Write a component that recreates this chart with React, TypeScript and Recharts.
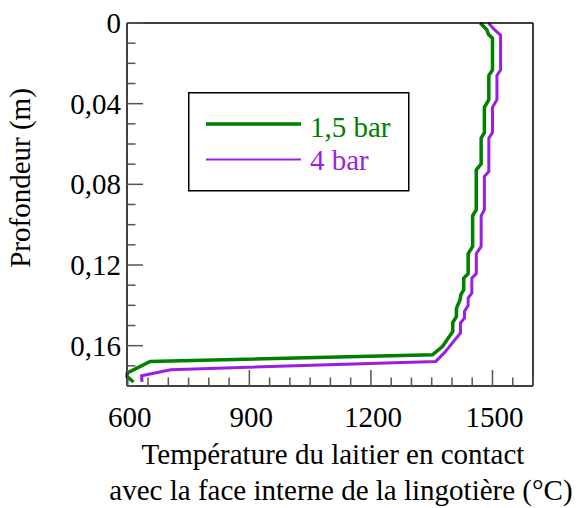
import { LineChart, Line, XAxis, YAxis, Legend } from 'recharts'

const FONT = '"Liberation Serif", "Times New Roman", serif'

// 1,5 bar
const temp15 = [1470, 1486, 1490, 1500, 1500, 1491, 1491, 1480, 1480, 1472, 1472, 1460, 1460, 1451, 1451, 1440, 1440, 1429, 1429, 1422, 1420, 1411, 1411, 1402, 1402, 1377, 1352, 655, 599, 598, 614]
const depth15 = [0, 0.0033, 0.0056, 0.0076, 0.0233, 0.026, 0.038, 0.0418, 0.0543, 0.0571, 0.0698, 0.0728, 0.0926, 0.0956, 0.1108, 0.1144, 0.1243, 0.1265, 0.1323, 0.1347, 0.1372, 0.1415, 0.1455, 0.1485, 0.153, 0.1603, 0.1645, 0.1678, 0.1735, 0.1752, 0.178]

// 4 bar
const temp4 = [1490, 1505, 1520, 1520, 1511, 1511, 1500, 1500, 1491, 1491, 1480, 1480, 1472, 1472, 1460, 1460, 1449, 1449, 1440, 1440, 1431, 1431, 1421, 1421, 1381, 1360, 706, 634, 635]
const depth4 = [0, 0.0033, 0.006, 0.0233, 0.026, 0.038, 0.0418, 0.0543, 0.0571, 0.0736, 0.0761, 0.0926, 0.0956, 0.1108, 0.1144, 0.1243, 0.1265, 0.1339, 0.1364, 0.14, 0.143, 0.1463, 0.1488, 0.1537, 0.1636, 0.1678, 0.1719, 0.1749, 0.178]

const xTicks = [600, 650, 700, 750, 800, 850, 900, 950, 1000, 1050, 1100, 1150, 1200, 1250, 1300, 1350, 1400, 1450, 1500, 1550, 1600]
const xLabels = [600, 900, 1200, 1500]
const yTicks = [0, 0.01, 0.02, 0.03, 0.04, 0.05, 0.06, 0.07, 0.08, 0.09, 0.1, 0.11, 0.12, 0.13, 0.14, 0.15, 0.16, 0.17, 0.18]
const yLabels = [0, 0.04, 0.08, 0.12, 0.16]

const series = [
  { name: '1,5 bar', color: '#008000', width: 3.5, legendWidth: 3.5, data: temp15.map((t, i) => ({ t, d: depth15[i] })) },
  { name: '4 bar', color: '#9b1fe3', width: 3, legendWidth: 2, data: temp4.map((t, i) => ({ t, d: depth4[i] })) },
]

const MAJOR = 16
const MINOR = 8.5
const TICK = '#555'

const isMajorX = (v: number) => v % 300 === 0
const isMajorY = (v: number) => Math.round(v * 100) % 4 === 0
const fmtY = (v: number) => (v === 0 ? '0' : v.toFixed(2).replace('.', ','))

function BottomTick(p: any) {
  const v = p.payload.value
  const len = isMajorX(v) ? MAJOR : MINOR
  return (
    <g>
      <line x1={p.x} x2={p.x} y1={p.y} y2={p.y - len} stroke={TICK} strokeWidth={1.5} />
      {xLabels.includes(v) && (
        <text x={p.x + 2} y={p.y + 41} textAnchor="middle" fontFamily={FONT} fontSize={29} fill="#000">
          {v}
        </text>
      )}
    </g>
  )
}

function TopTick(p: any) {
  const len = isMajorX(p.payload.value) ? MAJOR : MINOR
  return <line x1={p.x} x2={p.x} y1={p.y} y2={p.y + len} stroke={TICK} strokeWidth={1.5} />
}

function LeftTick(p: any) {
  const v = p.payload.value
  const len = isMajorY(v) ? MAJOR : MINOR
  return (
    <g>
      <line x1={p.x} x2={p.x + len} y1={p.y} y2={p.y} stroke={TICK} strokeWidth={1.5} />
      {yLabels.includes(v) && (
        <text x={p.x - 6} y={p.y + 10} textAnchor="end" fontFamily={FONT} fontSize={29} fill="#000">
          {fmtY(v)}
        </text>
      )}
    </g>
  )
}

function RightTick(p: any) {
  const len = isMajorY(p.payload.value) ? MAJOR : MINOR
  return <line x1={p.x} x2={p.x - len} y1={p.y} y2={p.y} stroke={TICK} strokeWidth={1.5} />
}

function LegendBox() {
  return (
    <svg width={222} height={100}>
      <rect x={0.75} y={0.75} width={220} height={98} fill="#fff" stroke="#000" strokeWidth={1.5} />
      {series.map((s, i) => (
        <g key={s.name}>
          <line x1={18} x2={113} y1={32 + i * 35.5} y2={32 + i * 35.5} stroke={s.color} strokeWidth={s.legendWidth} />
          <text x={122} y={44.5 + i * 33.5} fontFamily={FONT} fontSize={29} fill={s.color}>
            {s.name}
          </text>
        </g>
      ))}
    </svg>
  )
}

export default function App() {
  return (
    <div style={{ position: 'absolute', left: 0, top: 0, background: '#fff' }}>
      <LineChart width={582} height={508} margin={{ top: 22, right: 48, left: 0, bottom: 0 }}>
        <XAxis
          xAxisId="b"
          dataKey="t"
          type="number"
          domain={[600, 1600]}
          ticks={xTicks}
          interval={0}
          height={122}
          tickSize={0}
          tickMargin={0}
          tickLine={false}
          axisLine={{ stroke: '#000', strokeWidth: 1.5 }}
          tick={<BottomTick />}
          label={{
            content: () => (
              <g fontFamily={FONT} fontSize={29} fill="#000">
                <text x={333} y={464} textAnchor="middle">Température du laitier en contact</text>
                <text x={341} y={500} textAnchor="middle">avec la face interne de la lingotière (°C)</text>
              </g>
            ),
          }}
        />
        <XAxis
          xAxisId="t"
          orientation="top"
          type="number"
          domain={[600, 1600]}
          ticks={xTicks}
          interval={0}
          height={1}
          tickSize={0}
          tickMargin={0}
          tickLine={false}
          axisLine={{ stroke: '#000', strokeWidth: 1.5 }}
          tick={<TopTick />}
        />
        <YAxis
          yAxisId="l"
          type="number"
          reversed
          domain={[0, 0.18]}
          ticks={yTicks}
          interval={0}
          width={127}
          tickSize={0}
          tickMargin={0}
          tickLine={false}
          axisLine={{ stroke: '#000', strokeWidth: 1.5 }}
          tick={<LeftTick />}
          label={{
            content: () => (
              <text x={30} y={178} transform="rotate(-90, 30, 178)" textAnchor="middle" fontFamily={FONT} fontSize={29} fill="#000">
                Profondeur (m)
              </text>
            ),
          }}
        />
        <YAxis
          yAxisId="r"
          orientation="right"
          type="number"
          reversed
          domain={[0, 0.18]}
          ticks={yTicks}
          interval={0}
          width={1}
          tickSize={0}
          tickMargin={0}
          tickLine={false}
          axisLine={{ stroke: '#000', strokeWidth: 1.5 }}
          tick={<RightTick />}
        />
        <Legend
          layout="vertical"
          align="center"
          verticalAlign="middle"
          wrapperStyle={{ left: 188, top: 92, width: 222, height: 100 }}
          content={() => <LegendBox />}
        />
        {series.map((s) => (
          <Line
            key={s.name}
            xAxisId="b"
            yAxisId="l"
            data={s.data}
            dataKey="d"
            name={s.name}
            stroke={s.color}
            strokeWidth={s.width}
            strokeLinejoin="miter"
            dot={false}
            activeDot={false}
            isAnimationActive={false}
          />
        ))}
      </LineChart>
    </div>
  )
}
